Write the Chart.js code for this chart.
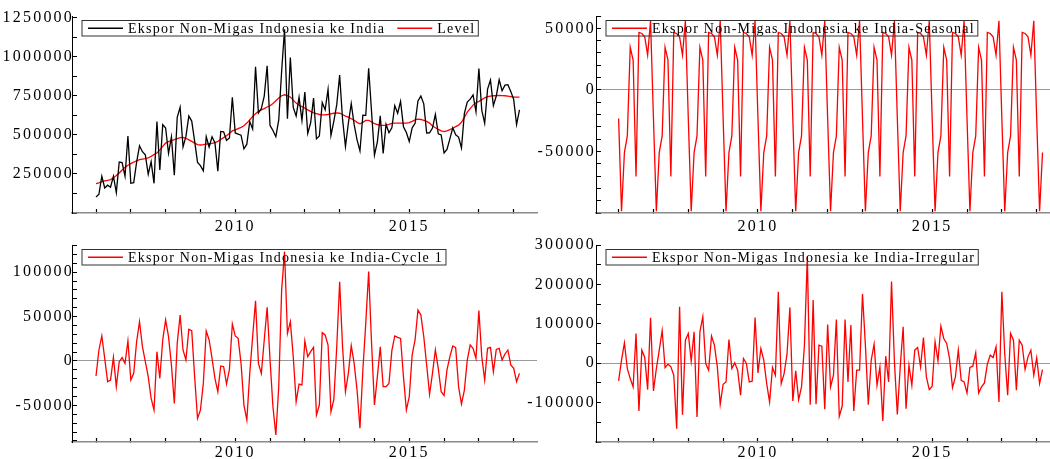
<!DOCTYPE html>
<html>
<head>
<meta charset="utf-8">
<script src="https://cdn.jsdelivr.net/npm/chart.js@4.4.1/dist/chart.umd.min.js"></script>
<style>
	body { margin: 0; background: #fff; width: 1050px; height: 459px; overflow: hidden; position: relative; }
	canvas { position: absolute; }
</style>
</head>
<body>
<canvas id="panel-level" width="545" height="240" style="left:0;top:0"></canvas>
<canvas id="panel-seasonal" width="526" height="240" style="left:524px;top:0"></canvas>
<canvas id="panel-cycle" width="545" height="230" style="left:0;top:229px"></canvas>
<canvas id="panel-irregular" width="526" height="230" style="left:524px;top:229px"></canvas>
<script>
// monthly, Jan 2006 .. Mar 2018
const startYear = 2006;
const seriesName = 'Ekspor Non-Migas Indonesia ke India';

const actual = [
	103000, 120000, 235000, 160000, 178000, 165000, 235000, 130000, 326000, 322000, 235000, 492000,
	190000, 194000, 325000, 430000, 392000, 372000, 248000, 328000, 190000, 585000, 275000, 565000,
	544000, 382000, 486000, 242000, 612000, 677000, 423000, 490000, 620000, 588000, 460000, 324000,
	303000, 270000, 488000, 422000, 488000, 450000, 268000, 522000, 519000, 465000, 480000, 740000,
	512000, 505000, 498000, 410000, 440000, 585000, 538000, 935000, 640000, 668000, 748000, 942000,
	560000, 528000, 488000, 595000, 908000, 1175000, 603000, 995000, 675000, 620000, 740000, 592000,
	773000, 509000, 577000, 735000, 474000, 492000, 706000, 660000, 791000, 496000, 588000, 693000,
	882000, 600000, 425000, 574000, 700000, 565000, 468000, 397000, 625000, 624000, 926000, 648000,
	370000, 455000, 621000, 381000, 567000, 513000, 545000, 687000, 638000, 713000, 552000, 515000,
	457000, 545000, 574000, 717000, 748000, 698000, 512000, 513000, 543000, 630000, 506000, 499000,
	384000, 407000, 474000, 545000, 500000, 486000, 416000, 637000, 710000, 728000, 755000, 647000,
	924000, 657000, 574000, 792000, 850000, 687000, 748000, 852000, 782000, 818000, 821000, 777000,
	727000, 566000, 660000
];

const level = [
	188000, 193000, 200000, 205000, 209000, 214000, 225000, 240000, 256000, 275000, 292000, 305000,
	316000, 325000, 334000, 341000, 345000, 348000, 352000, 362000, 373000, 384000, 404000, 426000,
	447000, 456000, 463000, 469000, 476000, 482000, 484000, 478000, 468000, 458000, 447000, 437000,
	435000, 437000, 441000, 443000, 445000, 450000, 458000, 470000, 482000, 494000, 510000, 525000,
	532000, 540000, 548000, 558000, 575000, 595000, 618000, 635000, 650000, 660000, 668000, 678000,
	686000, 700000, 718000, 735000, 750000, 756000, 750000, 741000, 722000, 703000, 690000, 680000,
	671000, 660000, 650000, 640000, 635000, 630000, 628000, 628000, 630000, 634000, 638000, 640000,
	638000, 630000, 620000, 613000, 603000, 593000, 580000, 571000, 580000, 592000, 592000, 583000,
	571000, 566000, 562000, 560000, 562000, 567000, 573000, 575000, 575000, 575000, 575000, 575000,
	578000, 586000, 595000, 600000, 598000, 592000, 586000, 575000, 556000, 545000, 535000, 525000,
	521000, 526000, 533000, 542000, 552000, 562000, 580000, 612000, 645000, 668000, 690000, 705000,
	714000, 725000, 737000, 744000, 748000, 750000, 751000, 752000, 751000, 750000, 748000, 745000,
	742000, 741000, 741000
];

const seasonal = [
	-23300, -98600, -50900, -37400, 34500, 24100, -70400, 46700, 45800, 43100, 28200, 56100,
	-23300, -98600, -50900, -37400, 34500, 24100, -70400, 46700, 45800, 43100, 28200, 56100,
	-23300, -98600, -50900, -37400, 34500, 24100, -70400, 46700, 45800, 43100, 28200, 56100,
	-23300, -98600, -50900, -37400, 34500, 24100, -70400, 46700, 45800, 43100, 28200, 56100,
	-23300, -98600, -50900, -37400, 34500, 24100, -70400, 46700, 45800, 43100, 28200, 56100,
	-23300, -98600, -50900, -37400, 34500, 24100, -70400, 46700, 45800, 43100, 28200, 56100,
	-23300, -98600, -50900, -37400, 34500, 24100, -70400, 46700, 45800, 43100, 28200, 56100,
	-23300, -98600, -50900, -37400, 34500, 24100, -70400, 46700, 45800, 43100, 28200, 56100,
	-23300, -98600, -50900, -37400, 34500, 24100, -70400, 46700, 45800, 43100, 28200, 56100,
	-23300, -98600, -50900, -37400, 34500, 24100, -70400, 46700, 45800, 43100, 28200, 56100,
	-23300, -98600, -50900, -37400, 34500, 24100, -70400, 46700, 45800, 43100, 28200, 56100,
	-23300, -98600, -50900, -37400, 34500, 24100, -70400, 46700, 45800, 43100, 28200, 56100,
	-23300, -98600, -50900
];

const cycle = [
	-16900, 12400, 28200, 3000, -23300, -21400, 4100, -28900, -800, 3800, -2600, 22500,
	-21400, -13900, 21800, 44300, 16100, -800, -17600, -42000, -55200, 10500, -19500, 23700,
	46200, 27400, -4500, -47700, 19900, 51800, 12400, 1100, 35700, 34200, -17600, -64600,
	-55200, -25200, 33800, 23700, 3000, -19500, -34500, -5600, -6400, -25900, -9400, 41700,
	28200, 25500, -2600, -49600, -66400, -13900, 27400, 67900, -2600, -13900, 23700, 60400,
	1100, -51400, -83300, -28900, 80000, 123100, 31200, 44300, 4900, -45800, -26000, -27000,
	22500, 4900, 10500, 15400, -60800, -49600, 31900, 29300, 18000, -57100, -43200, 16100,
	89300, 16100, -34500, -13900, 17300, -2600, -32700, -75800, -10100, 42400, 100600, 19900,
	-49600, -17600, 16100, -28900, -28900, -25200, 11600, 28200, 26700, 25500, -17600, -55200,
	-40200, 6800, 23700, 57400, 51800, 27400, -4500, -37500, -13900, 12400, -8300, -34500,
	-39000, -10100, 4900, 16900, 15000, -28900, -48400, -32700, 1100, 18000, 14300, 3000,
	56700, 4900, -21400, 14300, 15400, -12000, 13100, 14300, 1100, 7900, 12400, -4500,
	-8300, -23300, -13900
];

const irregular = [
	-45000, 7600, 51700, -13600, -39000, -60200, 75500, -121300, 33100, 14400, -67000, 115400,
	-70400, -13600, 33100, 82300, -11000, -2500, -9300, -30500, -166200, 143300, -130600, 58500,
	75500, 5100, 79700, -136600, 79700, 117900, -800, -17800, 68700, 45800, -9300, -104300,
	-53400, -47500, 60200, -13600, 800, -17800, -81400, 11900, -800, -47500, -45800, 116200,
	-24600, 37300, 7600, -51700, -98400, -11000, -30500, 181500, -51700, -26300, 22900, 141600,
	-95800, -19500, -92500, -60200, 45000, 270600, -105200, 160300, -104300, 45800, 43300, -117100,
	98400, -60200, -30500, 111100, -134900, -109400, 111100, -47500, 96700, -121300, -17800, -17800,
	175600, 45800, -105200, 7600, 48300, -56000, -9300, -146700, 17800, -47500, 207000, 3400,
	-129800, -9300, 92500, -115400, -5100, -56000, 33100, 39900, -9300, 65300, -34800, -67000,
	-58500, 54300, 5900, 94100, 62800, 50000, 11900, -61900, -34800, 33100, -43300, -47500,
	-75500, -11000, -7600, 26300, -75500, -60200, -50000, -2500, 20400, 14400, 41600, -98400,
	181500, 22900, -81400, 75500, 58500, -68700, 58500, 45800, -16100, 16100, 33100, -30500,
	13600, -51700, -16100
];

const yearTicks = [2006, 2007, 2008, 2009, 2010, 2011, 2012, 2013, 2014, 2015, 2016, 2017, 2018];
const labelledYears = [2010, 2015];

const dates = actual.map((v, i) => startYear + i / 12);

function steps(from, to, step) {
	let out = [];
	for (let v = from; v <= to + 1e-6; v += step) out.push(v);
	return out;
}

const tickFont = { family: '"Liberation Serif", "Times New Roman", serif', size: 16 };

// OxMetrics style text is drawn with wide spacing
const spacing = {
	id: 'spacing',
	beforeDraw(chart) {
		chart.ctx.letterSpacing = '2.2px';
	}
};

// framed legend inside the top left of the plot
const boxLegend = {
	id: 'boxLegend',
	afterDatasetsDraw(chart) {
		const c = chart.ctx;
		const area = chart.chartArea;
		c.save();
		c.font = '14px "Liberation Serif", "Times New Roman", serif';
		c.letterSpacing = '1.24px';
		c.textBaseline = 'middle';
		const left = area.left + 10, top = area.top + 4.5, h = 15.5;
		const mid = top + h / 2;
		let x = left + 6;
		chart.data.datasets.forEach((d, k) => {
			if (k > 0) x += 12;
			c.strokeStyle = d.borderColor;
			c.lineWidth = 1.3;
			c.beginPath();
			c.moveTo(x, mid);
			c.lineTo(x + 35, mid);
			c.stroke();
			x += 40;
			c.fillStyle = '#000';
			c.fillText(d.label, x, mid + 1);
			x += c.measureText(d.label).width;
		});
		c.strokeStyle = '#333';
		c.lineWidth = 1;
		c.strokeRect(left, top, x + 3 - left, h);
		c.restore();
	}
};

function panel(id, cfg) {
	let ctx = document.getElementById(id);
	return new Chart(ctx, {
		type: 'line',
		data: {
			datasets: cfg.series.map(s => ({
				label: s.label,
				data: s.values.map((v, i) => ({ x: dates[i], y: v })),
				borderColor: s.color,
				borderWidth: 1.3,
				pointRadius: 0,
				tension: 0
			}))
		},
		options: {
			responsive: false,
			animation: false,
			devicePixelRatio: 1,
			layout: { padding: cfg.padding },
			plugins: {
				legend: { display: false },
				tooltip: { enabled: false }
			},
			scales: {
				x: {
					type: 'linear',
					min: cfg.xMin,
					max: cfg.xMax,
					afterBuildTicks: s => { s.ticks = yearTicks.map(v => ({ value: v })); },
					afterFit: s => { s.height = cfg.xHeight; },
					border: { color: '#8a8a8a', width: 1.5 },
					grid: { drawOnChartArea: false, tickLength: -4, tickColor: '#000', tickWidth: 1.2 },
					ticks: {
						autoSkip: false,
						maxRotation: 0,
						padding: cfg.xPad,
						color: '#000',
						font: tickFont,
						callback: v => labelledYears.includes(v) ? String(v) : ''
					}
				},
				y: {
					min: cfg.yMin,
					max: cfg.yMax,
					afterBuildTicks: s => { s.ticks = cfg.yTicks.map(v => ({ value: v })); },
					afterFit: s => { s.width = 72; },
					border: { color: '#000', width: 1 },
					grid: {
						color: c => (cfg.zeroLine && c.tick && c.tick.value === 0) ? '#9a9a9a' : 'rgba(0,0,0,0)',
						tickColor: '#000',
						tickLength: -5
					},
					ticks: {
						autoSkip: false,
						padding: cfg.labelPad,
						color: '#000',
						font: tickFont,
						callback: v => cfg.yLabels.includes(v) ? String(v) : ''
					}
				}
			}
		},
		plugins: [spacing, boxLegend]
	});
}

const topLeft = { xMin: 2005.31, xMax: 2018.67, padding: { top: 16, right: 8, left: 0, bottom: 0 }, labelPad: 3, xHeight: 27, xPad: 8 };
const topRight = { xMin: 2005.351, xMax: 2018.382, padding: { top: 16, right: 0, left: 0, bottom: 0 }, labelPad: 5, xHeight: 27, xPad: 8 };
const bottomLeft = Object.assign({}, topLeft, { xHeight: 17, xPad: 5 });
const bottomRight = Object.assign({}, topRight, { xHeight: 17, xPad: 5 });

panel('panel-level', Object.assign({}, topLeft, {
	series: [
		{ label: seriesName, values: actual, color: '#000000' },
		{ label: 'Level', values: level, color: '#ff0000' }
	],
	yMin: 0, yMax: 1260000,
	yTicks: steps(0, 1250000, 125000),
	yLabels: [250000, 500000, 750000, 1000000, 1250000],
	zeroLine: false
}));

panel('panel-seasonal', Object.assign({}, topRight, {
	series: [{ label: seriesName + '-Seasonal', values: seasonal, color: '#ff0000' }],
	yMin: -100000, yMax: 60000,
	yTicks: steps(-100000, 60000, 10000),
	yLabels: [-50000, 0, 50000],
	zeroLine: true
}));

panel('panel-cycle', Object.assign({}, bottomLeft, {
	series: [{ label: seriesName + '-Cycle 1', values: cycle, color: '#ff0000' }],
	yMin: -91200, yMax: 130600,
	yTicks: steps(-90000, 130000, 10000),
	yLabels: [-50000, 0, 50000, 100000],
	zeroLine: true
}));

panel('panel-irregular', Object.assign({}, bottomRight, {
	series: [{ label: seriesName + '-Irregular', values: irregular, color: '#ff0000' }],
	yMin: -200000, yMax: 300000,
	yTicks: steps(-200000, 300000, 50000),
	yLabels: [-100000, 0, 100000, 200000, 300000],
	zeroLine: true
}));
</script>
</body>
</html>
